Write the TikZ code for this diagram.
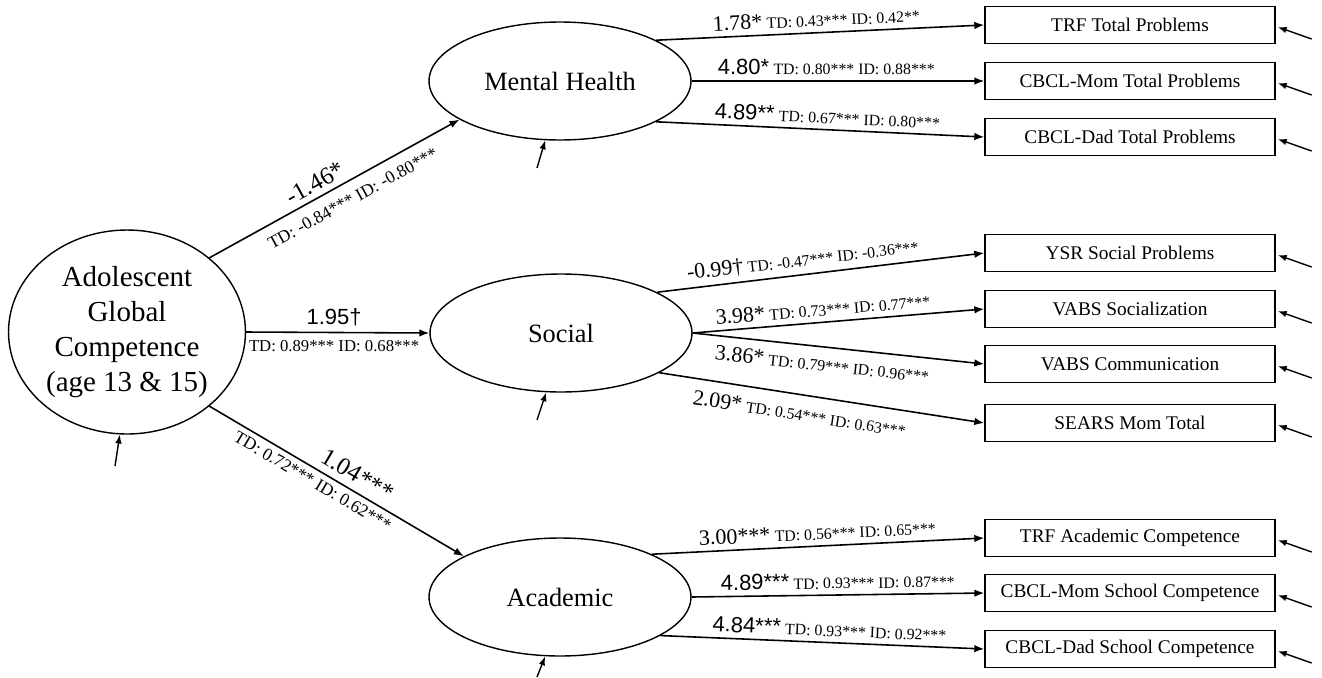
\documentclass[tikz,border=0pt]{standalone}
\usepackage{fontspec}
\setmainfont{Liberation Serif}
\setsansfont{Liberation Sans}
\usetikzlibrary{shapes.geometric,arrows.meta}

\newcommand{\pathlab}[3][]{{#1\fontsize{12.5}{14}\selectfont #2}\ {\fontsize{9}{10}\selectfont #3}}

\begin{document}
\begin{tikzpicture}[x=0.02cm,y=-0.02cm,
    latent/.style={draw,ellipse,line width=0.8pt,minimum width=5.24cm,minimum height=2.36cm,inner sep=0pt,font=\fontsize{15}{18}\selectfont},
    obs/.style={draw,rectangle,line width=0.8pt,minimum width=5.8cm,minimum height=0.75cm,inner sep=0pt,font=\fontsize{11}{13}\selectfont},
    regr/.style={-{Latex[length=2mm,width=1.5mm]},line width=0.9pt},
    resid/.style={-{Latex[length=1.8mm,width=1.3mm]},line width=0.8pt},
    lab/.style={sloped,inner sep=3pt}]
    \useasboundingbox (0,0) rectangle (1322,677);
    \node[latent,minimum width=4.74cm,minimum height=4.08cm,align=center,font=\fontsize{16.5}{19.8}\selectfont] (agc) at (127,332) {Adolescent\\Global\\Competence\\(age 13 \& 15)};
    \node[latent] (mh) at (560,81) {Mental Health};
    \node[latent] (soc) at (561,333) {Social};
    \node[latent] (aca) at (560,597) {Academic};

    \node[obs] (trf) at (1130,25) {TRF Total Problems};
    \node[obs] (cbm) at (1130,81) {CBCL-Mom Total Problems};
    \node[obs] (cbd) at (1130,137) {CBCL-Dad Total Problems};
    \node[obs] (ysr) at (1130,253) {YSR Social Problems};
    \node[obs] (vsoc) at (1130,309) {VABS Socialization};
    \node[obs] (vcom) at (1130,364) {VABS Communication};
    \node[obs] (sears) at (1130,423) {SEARS Mom Total};
    \node[obs] (trfa) at (1130,538) {TRF Academic Competence};
    \node[obs] (cbms) at (1130,593) {CBCL-Mom School Competence};
    \node[obs] (cbds) at (1130,649) {CBCL-Dad School Competence};

    \draw[regr] (agc.42) -- node[lab,above,pos=0.45,font=\fontsize{14}{16}\selectfont] (c1) {-1.46*}
        node[lab,below,pos=0.54,inner sep=6pt,font=\fontsize{10}{11}\selectfont] (t1) {TD: -0.84*** ID: -0.80***} (mh.201);
    \draw[regr] (agc.east) -- node[above,pos=0.48,font=\sffamily\fontsize{12.5}{14}\selectfont] (c2) {1.95†}
        node[below,pos=0.48,inner sep=4pt,font=\fontsize{9.5}{11}\selectfont] (t2) {TD: 0.89*** ID: 0.68***} (soc.west);
    \draw[regr] (agc.-42) -- node[lab,above,pos=0.55,inner sep=4pt,font=\fontsize{14}{16}\selectfont] (c3) {1.04***}
        node[lab,below,pos=0.43,font=\fontsize{10}{11}\selectfont] (t3) {TD: 0.72*** ID: 0.62***} (aca.157);

    \draw[regr] (mh.23) -- node[lab,above,pos=0.49] (m1) {\pathlab{1.78*}{TD: 0.43*** ID: 0.42**}} (trf.west);
    \draw[regr] (mh.east) -- node[lab,above,pos=0.46] (m2) {\pathlab[\sffamily]{4.80*}{TD: 0.80*** ID: 0.88***}} (cbm.west);
    \draw[regr] (mh.-23) -- node[lab,above,pos=0.52] (m3) {\pathlab[\sffamily]{4.89**}{TD: 0.67*** ID: 0.80***}} (cbd.west);

    \draw[regr] (soc.23) -- node[lab,above,pos=0.45] (s1) {\pathlab{-0.99†}{TD: -0.47*** ID: -0.36***}} (ysr.west);
    \draw[regr] (soc.east) -- node[lab,above,pos=0.45] (s2) {\pathlab{3.98*}{TD: 0.73*** ID: 0.77***}} (vsoc.west);
    \draw[regr] (soc.east) -- node[lab,below,pos=0.45,inner sep=5pt] (s3) {\pathlab{3.86*}{TD: 0.79*** ID: 0.96***}} (vcom.west);
    \draw[regr] (soc.-22) -- node[lab,below,pos=0.44,inner sep=6pt] (s4) {\pathlab{2.09*}{TD: 0.54*** ID: 0.63***}} (sears.west);

    \draw[regr] (aca.25) -- node[lab,above,pos=0.5] (a1) {\pathlab{3.00***}{TD: 0.56*** ID: 0.65***}} (trfa.west);
    \draw[regr] (aca.east) -- node[lab,above,pos=0.5] (a2) {\pathlab[\sffamily]{4.89***}{TD: 0.93*** ID: 0.87***}} (cbms.west);
    \draw[regr] (aca.-21) -- node[lab,above,pos=0.52] (a3) {\pathlab[\sffamily]{4.84***}{TD: 0.93*** ID: 0.92***}} (cbds.west);

    \coordinate (eagc) at (115,466);
    \coordinate (emh) at (537,168);
    \coordinate (esoc) at (537,420);
    \coordinate (eaca) at (537,677);
    \draw[resid] (eagc) -- (agc.266);
    \draw[resid] (emh) -- (mh.256);
    \draw[resid] (esoc) -- (soc.256);
    \draw[resid] (eaca) -- (aca.256);
    \foreach \b in {trf,cbm,cbd,ysr,vsoc,vcom,sears,trfa,cbms,cbds}
        \draw[resid] ([shift={(36,14)}]\b.east) -- ([shift={(2,2)}]\b.east);
\end{tikzpicture}
\end{document}
